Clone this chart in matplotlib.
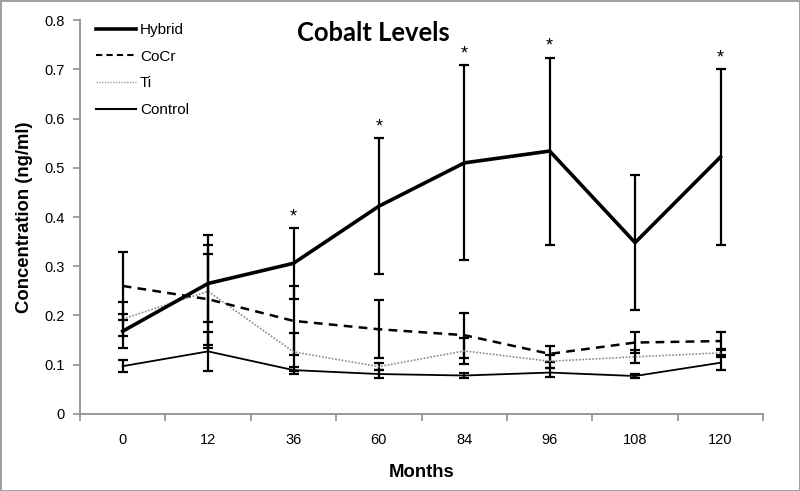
import matplotlib
matplotlib.use("Agg")
import matplotlib.pyplot as plt
from matplotlib.lines import Line2D
import numpy as np

months = ["0", "12", "36", "60", "84", "96", "108", "120"]

hybrid = [0.168, 0.265, 0.306, 0.422, 0.510, 0.534, 0.348, 0.522]
hybrid_err = [0.035, 0.078, 0.072, 0.138, 0.198, 0.190, 0.137, 0.178]

cocr = [0.260, 0.233, 0.189, 0.172, 0.160, 0.122, 0.145, 0.148]
cocr_err = [0.069, 0.092, 0.070, 0.059, 0.046, 0.016, 0.021, 0.018]

ti = [0.193, 0.249, 0.126, 0.096, 0.128, 0.107, 0.116, 0.124]
ti_err = [0.035, 0.115, 0.038, 0.007, 0.027, 0.013, 0.013, 0.008]

control = [0.097, 0.127, 0.089, 0.081, 0.078, 0.084, 0.077, 0.104]
control_err = [0.012, 0.039, 0.007, 0.009, 0.006, 0.010, 0.004, 0.015]

significant = [False, False, True, True, True, True, False, True]

fig = plt.figure(figsize=(8, 4.91), dpi=100)
fig.patch.set_edgecolor("#a0a0a0")
fig.patch.set_linewidth(2.0)
ax = fig.add_axes([0.1, 0.157, 0.854, 0.802])

x = np.arange(len(months))
tickfont = "Liberation Sans"

ekw = dict(ecolor="black", elinewidth=1.6, capsize=3.5, capthick=1.6)
ax.errorbar(x, control, yerr=control_err, color="black", lw=1.3, ls="-", zorder=3, **ekw)
ax.errorbar(x, ti, yerr=ti_err, color="#8a8a8a", lw=1.2, ls=(0, (1, 1)), zorder=3, **ekw)
ax.errorbar(x, cocr, yerr=cocr_err, color="black", lw=1.8, ls=(0, (3.5, 2.5)), zorder=3, **ekw)
ax.errorbar(x, hybrid, yerr=hybrid_err, color="black", lw=2.6, ls="-", zorder=4, **ekw)

for i, s in enumerate(significant):
    if s:
        ax.annotate("*", (x[i], hybrid[i] + hybrid_err[i]), xytext=(0, 2),
                    textcoords="offset points", ha="center", va="bottom",
                    fontsize=13, fontfamily=tickfont)

ax.set_xlim(-0.5, len(months) - 0.5)
ax.set_ylim(0, 0.8)
ax.set_yticks(np.arange(0, 0.81, 0.1))
ax.set_yticklabels(["0"] + [f"{v:.1f}" for v in np.arange(0.1, 0.81, 0.1)],
                   fontfamily=tickfont, fontsize=10.5)
ax.set_xticks(x)
ax.set_xticklabels(months, fontfamily=tickfont, fontsize=10.5)
ax.set_xticks(np.arange(-0.5, len(months)), minor=True)
ax.tick_params(axis="x", which="major", length=0, pad=14)
ax.tick_params(axis="x", which="minor", length=5, color="#909090", width=1.2)
ax.tick_params(axis="y", length=5, color="#909090", width=1.2, pad=6)

for side in ["top", "right"]:
    ax.spines[side].set_visible(False)
for side in ["left", "bottom"]:
    ax.spines[side].set_color("#909090")
    ax.spines[side].set_linewidth(1.3)

ax.set_xlabel("Months", fontfamily=tickfont, fontweight="bold", fontsize=13.3, labelpad=12)
ax.set_ylabel("Concentration (ng/ml)", fontfamily=tickfont, fontweight="bold", fontsize=13.3, labelpad=8)

ax.text(0.430, 0.998, "Cobalt Levels", transform=ax.transAxes, ha="center", va="top",
        fontfamily="Lato", fontweight="bold", fontsize=18.4)

leg_handles = [
    Line2D([], [], color="black", lw=2.6),
    Line2D([], [], color="black", lw=1.5, ls=(0, (3, 2))),
    Line2D([], [], color="#9a9a9a", lw=1.0, ls=(0, (1, 1))),
    Line2D([], [], color="black", lw=1.5),
]
ax.legend(leg_handles, ["Hybrid", "CoCr", "Ti", "Control"], loc="upper left",
          bbox_to_anchor=(0.0234, 0.992), frameon=False, handlelength=2.6,
          labelspacing=0.82, prop={"family": tickfont, "size": 11},
          handletextpad=0.27, borderaxespad=0.0, borderpad=0.0)

fig.savefig("out.png", dpi=100)
